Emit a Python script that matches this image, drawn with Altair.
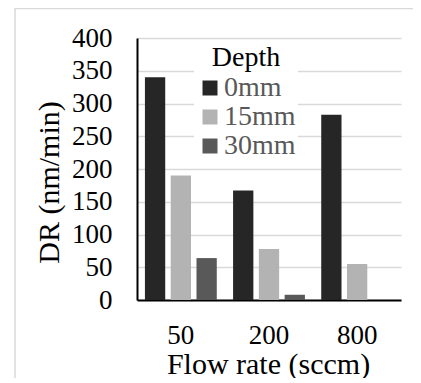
import altair as alt
import pandas as pd

flow_rates = ["50", "200", "800"]
depths = ["0mm", "15mm", "30mm"]
dr_0mm = [340, 167, 283]
dr_15mm = [190, 78, 55]
dr_30mm = [64, 8, 0]
colors = ["#262626", "#b3b3b3", "#595959"]
y_ticks = [0, 50, 100, 150, 200, 250, 300, 350, 400]

rows = []
for d, vals in zip(depths, [dr_0mm, dr_15mm, dr_30mm]):
    for f, v in zip(flow_rates, vals):
        rows.append({"flow": f, "depth": d, "dr": v})
df = pd.DataFrame(rows)

FONT = "'Liberation Serif', 'Times New Roman', Tinos, serif"

bars = alt.Chart(df).mark_bar().encode(
    x=alt.X(
        "flow:N", sort=flow_rates,
        scale=alt.Scale(paddingInner=0.185, paddingOuter=0.09),
        axis=alt.Axis(
            title="Flow rate (sccm)", labelAngle=0, ticks=False, labelPadding=22,
            labelFont=FONT, labelFontSize=27, labelColor="black",
            titleFont=FONT, titleFontSize=30, titleFontWeight="normal", titleColor="black",
            titleX=131, titleY=73, titleBaseline="alphabetic", titleAlign="center",
            domainColor="black", domainWidth=2, grid=False,
        ),
    ),
    xOffset=alt.XOffset("depth:N", sort=depths,
                        scale=alt.Scale(paddingInner=0.213, paddingOuter=0)),
    y=alt.Y(
        "dr:Q", scale=alt.Scale(domain=[0, 400]),
        axis=alt.Axis(
            title="DR (nm/min)", values=y_ticks, ticks=False, labelPadding=25,
            labelFont=FONT, labelFontSize=27, labelColor="black",
            titleFont=FONT, titleFontSize=30, titleFontWeight="normal", titleColor="black",
            titleX=-88, titleY=144, titleBaseline="middle", titleAlign="center", titleAngle=270,
            domainColor="black", domainWidth=2,
            grid=True, gridColor="#d9d9d9", gridWidth=1.5,
        ),
    ),
    color=alt.Color(
        "depth:N", sort=depths,
        scale=alt.Scale(domain=depths, range=colors),
        legend=alt.Legend(
            title="Depth", orient="none", legendX=57, legendY=4,
            fillColor="white", padding=2,
            titleFont=FONT, titleFontSize=28, titleFontWeight="normal", titleColor="black",
            titleAnchor="middle", titlePadding=2,
            labelFont=FONT, labelFontSize=28, labelColor="#595959", labelOffset=0,
            symbolType="square", symbolSize=225, symbolStrokeWidth=0, symbolOpacity=1,
            rowPadding=1,
        ),
    ),
)

frame_src = pd.DataFrame({"k": [0]})
frame = alt.Chart(frame_src).mark_rect(
    fillOpacity=0, stroke="#d9d9d9", strokeWidth=1.5
).encode(
    x=alt.value(-122), x2=alt.value(320),
    y=alt.value(-29.5), y2=alt.value(380),
)

chart = alt.layer(frame, bars).properties(
    width=264, height=262,
    autosize=alt.AutoSizeParams(type="none"),
    padding={"left": 129, "top": 30, "right": 12, "bottom": 78},
    background="white",
).configure_view(stroke=None)

chart.save("out.html", embed_options={"renderer": "svg", "actions": False})
